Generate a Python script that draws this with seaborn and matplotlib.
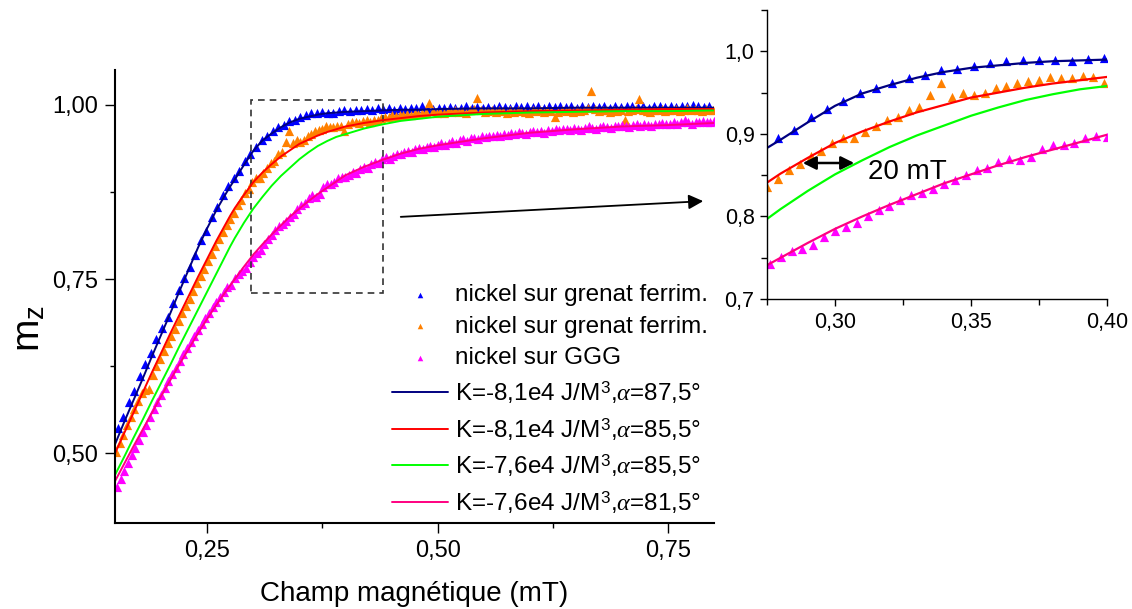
import matplotlib
matplotlib.use("Agg")
import matplotlib.pyplot as plt
import seaborn as sns
from matplotlib.ticker import MultipleLocator, FuncFormatter
from matplotlib.patches import Rectangle

# measured points (champ mT, m_z)
blue_pts = [
    (0.153, 0.537), (0.159, 0.552), (0.165, 0.574), (0.171, 0.590), (0.177, 0.611),
    (0.183, 0.628), (0.189, 0.644), (0.195, 0.664), (0.201, 0.680), (0.207, 0.696),
    (0.213, 0.716), (0.219, 0.734), (0.225, 0.751), (0.231, 0.767), (0.237, 0.785),
    (0.243, 0.806), (0.249, 0.819), (0.255, 0.839), (0.261, 0.853), (0.267, 0.870),
    (0.273, 0.884), (0.279, 0.895), (0.285, 0.905), (0.291, 0.920), (0.297, 0.930),
    (0.303, 0.940), (0.309, 0.949), (0.315, 0.956), (0.321, 0.962), (0.327, 0.968),
    (0.333, 0.971), (0.339, 0.977), (0.345, 0.979), (0.351, 0.982), (0.357, 0.986),
    (0.363, 0.988), (0.369, 0.989), (0.375, 0.990), (0.381, 0.989), (0.387, 0.988),
    (0.393, 0.991), (0.399, 0.992), (0.405, 0.991), (0.411, 0.993), (0.417, 0.992),
    (0.423, 0.994), (0.429, 0.993), (0.435, 0.995), (0.441, 0.994), (0.447, 0.996),
    (0.453, 0.993), (0.459, 0.995), (0.465, 0.994), (0.471, 0.996), (0.477, 0.995),
    (0.483, 0.998), (0.489, 0.995), (0.495, 0.994), (0.501, 0.996), (0.507, 0.995),
    (0.513, 0.997), (0.519, 0.995), (0.525, 0.996), (0.531, 0.998), (0.537, 0.996),
    (0.543, 0.997), (0.549, 0.995), (0.555, 0.997), (0.561, 0.996), (0.567, 0.998),
    (0.573, 0.997), (0.579, 0.996), (0.585, 0.998), (0.591, 0.997), (0.597, 0.999),
    (0.603, 0.997), (0.609, 0.998), (0.615, 0.996), (0.621, 0.998), (0.627, 0.997),
    (0.633, 0.999), (0.639, 0.997), (0.645, 0.998), (0.651, 0.996), (0.657, 0.998),
    (0.663, 0.997), (0.669, 0.999), (0.675, 0.997), (0.681, 0.998), (0.687, 0.996),
    (0.693, 0.998), (0.699, 0.997), (0.705, 0.999), (0.711, 0.998), (0.717, 0.997),
    (0.723, 0.998), (0.729, 0.996), (0.735, 0.998), (0.741, 0.999), (0.747, 0.997),
    (0.753, 0.998), (0.759, 0.997), (0.765, 0.999), (0.771, 0.998), (0.777, 1.000),
    (0.783, 0.998), (0.789, 0.997), (0.795, 0.999),
]

orange_pts = [
    (0.151, 0.502), (0.155, 0.515), (0.159, 0.527), (0.163, 0.540), (0.167, 0.552),
    (0.171, 0.564), (0.175, 0.575), (0.179, 0.586), (0.183, 0.591), (0.187, 0.592),
    (0.191, 0.613), (0.195, 0.625), (0.199, 0.636), (0.203, 0.647), (0.207, 0.658),
    (0.211, 0.668), (0.215, 0.679), (0.219, 0.690), (0.223, 0.701), (0.227, 0.712),
    (0.231, 0.722), (0.235, 0.733), (0.239, 0.744), (0.243, 0.755), (0.247, 0.765),
    (0.251, 0.776), (0.255, 0.786), (0.259, 0.797), (0.263, 0.808), (0.267, 0.818),
    (0.271, 0.827), (0.275, 0.836), (0.279, 0.845), (0.283, 0.856), (0.287, 0.864),
    (0.291, 0.873), (0.295, 0.879), (0.299, 0.889), (0.303, 0.895), (0.307, 0.895),
    (0.311, 0.902), (0.315, 0.910), (0.319, 0.917), (0.323, 0.920), (0.327, 0.929),
    (0.331, 0.933), (0.335, 0.947), (0.339, 0.962), (0.343, 0.945), (0.347, 0.950),
    (0.351, 0.947), (0.355, 0.950), (0.359, 0.956), (0.363, 0.958), (0.367, 0.962),
    (0.371, 0.964), (0.375, 0.965), (0.379, 0.969), (0.383, 0.968), (0.387, 0.968),
    (0.391, 0.970), (0.395, 0.969), (0.399, 0.962), (0.403, 0.972), (0.407, 0.975),
    (0.411, 0.976), (0.415, 0.974), (0.419, 0.977), (0.423, 0.978), (0.427, 0.976),
    (0.431, 0.979), (0.435, 0.978), (0.439, 0.981), (0.443, 0.983), (0.447, 0.982),
    (0.451, 0.985), (0.455, 0.984), (0.459, 0.986), (0.463, 0.985), (0.467, 0.987),
    (0.471, 0.986), (0.475, 0.988), (0.479, 0.987), (0.483, 0.989), (0.487, 0.990),
    (0.491, 1.002), (0.495, 0.991), (0.499, 0.988), (0.503, 0.990), (0.507, 0.989),
    (0.511, 0.991), (0.515, 0.990), (0.519, 0.992), (0.523, 0.990), (0.527, 0.991),
    (0.531, 0.989), (0.535, 0.992), (0.539, 0.994), (0.543, 1.010), (0.547, 0.993),
    (0.551, 0.990), (0.555, 0.991), (0.559, 0.993), (0.563, 0.990), (0.567, 0.992),
    (0.571, 0.991), (0.575, 0.989), (0.579, 0.992), (0.583, 0.990), (0.587, 0.992),
    (0.591, 0.991), (0.595, 0.990), (0.599, 0.988), (0.603, 0.992), (0.607, 0.991),
    (0.611, 0.993), (0.615, 0.990), (0.619, 0.992), (0.623, 0.991), (0.627, 0.983),
    (0.631, 0.990), (0.635, 0.992), (0.639, 0.991), (0.643, 0.993), (0.647, 0.990),
    (0.651, 0.992), (0.655, 0.991), (0.659, 0.993), (0.663, 0.995), (0.667, 1.020),
    (0.671, 0.994), (0.675, 0.991), (0.679, 0.993), (0.683, 0.992), (0.687, 0.990),
    (0.691, 0.993), (0.695, 0.991), (0.699, 0.992), (0.703, 0.979), (0.707, 0.991),
    (0.711, 0.993), (0.715, 0.994), (0.719, 1.009), (0.723, 0.993), (0.727, 0.991),
    (0.731, 0.990), (0.735, 0.993), (0.739, 0.992), (0.743, 0.994), (0.747, 0.991),
    (0.751, 0.993), (0.755, 0.992), (0.759, 0.994), (0.763, 0.991), (0.767, 0.993),
    (0.771, 0.995), (0.775, 0.992), (0.779, 0.994), (0.783, 0.993), (0.787, 0.991),
    (0.791, 0.994), (0.795, 0.992), (0.799, 0.993),
]

magenta_pts = [
    (0.152, 0.452), (0.156, 0.463), (0.160, 0.474), (0.164, 0.486), (0.168, 0.497),
    (0.172, 0.508), (0.176, 0.519), (0.180, 0.531), (0.184, 0.541), (0.188, 0.552),
    (0.192, 0.563), (0.196, 0.573), (0.200, 0.584), (0.204, 0.594), (0.208, 0.604),
    (0.212, 0.614), (0.216, 0.623), (0.220, 0.633), (0.224, 0.642), (0.228, 0.651),
    (0.232, 0.660), (0.236, 0.669), (0.240, 0.677), (0.244, 0.686), (0.248, 0.694),
    (0.252, 0.702), (0.256, 0.710), (0.260, 0.717), (0.264, 0.725), (0.268, 0.732),
    (0.272, 0.738), (0.276, 0.742), (0.280, 0.751), (0.284, 0.758), (0.288, 0.761),
    (0.292, 0.766), (0.296, 0.775), (0.300, 0.782), (0.304, 0.787), (0.308, 0.792),
    (0.312, 0.801), (0.316, 0.808), (0.320, 0.813), (0.324, 0.820), (0.328, 0.826),
    (0.332, 0.829), (0.336, 0.833), (0.340, 0.839), (0.344, 0.844), (0.348, 0.850),
    (0.352, 0.856), (0.356, 0.859), (0.360, 0.866), (0.364, 0.870), (0.368, 0.868),
    (0.372, 0.872), (0.376, 0.882), (0.380, 0.887), (0.384, 0.887), (0.388, 0.889),
    (0.392, 0.895), (0.396, 0.897), (0.400, 0.896), (0.404, 0.899), (0.408, 0.903),
    (0.412, 0.902), (0.416, 0.908), (0.420, 0.911), (0.424, 0.910), (0.428, 0.915),
    (0.432, 0.918), (0.436, 0.917), (0.440, 0.922), (0.444, 0.925), (0.448, 0.923),
    (0.452, 0.927), (0.456, 0.930), (0.460, 0.929), (0.464, 0.932), (0.468, 0.934),
    (0.472, 0.932), (0.476, 0.936), (0.480, 0.938), (0.484, 0.936), (0.488, 0.940),
    (0.492, 0.941), (0.496, 0.939), (0.500, 0.943), (0.504, 0.945), (0.508, 0.943),
    (0.512, 0.946), (0.516, 0.948), (0.520, 0.946), (0.524, 0.949), (0.528, 0.951),
    (0.532, 0.948), (0.536, 0.952), (0.540, 0.953), (0.544, 0.951), (0.548, 0.955),
    (0.552, 0.954), (0.556, 0.956), (0.560, 0.955), (0.564, 0.957), (0.568, 0.956),
    (0.572, 0.958), (0.576, 0.957), (0.580, 0.959), (0.584, 0.958), (0.588, 0.961),
    (0.592, 0.959), (0.596, 0.958), (0.600, 0.961), (0.604, 0.963), (0.608, 0.961),
    (0.612, 0.962), (0.616, 0.960), (0.620, 0.964), (0.624, 0.963), (0.628, 0.965),
    (0.632, 0.964), (0.636, 0.966), (0.640, 0.965), (0.644, 0.964), (0.648, 0.967),
    (0.652, 0.966), (0.656, 0.964), (0.660, 0.967), (0.664, 0.969), (0.668, 0.967),
    (0.672, 0.966), (0.676, 0.968), (0.680, 0.970), (0.684, 0.968), (0.688, 0.967),
    (0.692, 0.970), (0.696, 0.969), (0.700, 0.971), (0.704, 0.970), (0.708, 0.968),
    (0.712, 0.971), (0.716, 0.972), (0.720, 0.970), (0.724, 0.973), (0.728, 0.971),
    (0.732, 0.970), (0.736, 0.973), (0.740, 0.972), (0.744, 0.974), (0.748, 0.972),
    (0.752, 0.973), (0.756, 0.975), (0.760, 0.973), (0.764, 0.976), (0.768, 0.979),
    (0.772, 0.975), (0.776, 0.973), (0.780, 0.976), (0.784, 0.975), (0.788, 0.977),
    (0.792, 0.975), (0.796, 0.976), (0.800, 0.977),
]

# fitted curves
fit_x = [0.15, 0.16, 0.17, 0.18, 0.19, 0.20, 0.21, 0.22, 0.23, 0.24, 0.25, 0.26, 0.27,
         0.275, 0.28, 0.29, 0.30, 0.31, 0.32, 0.33, 0.34, 0.35, 0.36, 0.37, 0.38, 0.39,
         0.40, 0.42, 0.44, 0.46, 0.48, 0.50, 0.55, 0.60, 0.65, 0.70, 0.75, 0.80]
fit_navy = [0.513, 0.545, 0.576, 0.607, 0.639, 0.670, 0.701, 0.733, 0.764, 0.795, 0.823, 0.849, 0.872,
            0.883, 0.893, 0.914, 0.934, 0.949, 0.959, 0.968, 0.975, 0.980, 0.983, 0.986, 0.988, 0.989,
            0.990, 0.991, 0.992, 0.993, 0.993, 0.994, 0.995, 0.995, 0.996, 0.996, 0.996, 0.996]
fit_red = [0.500, 0.529, 0.558, 0.587, 0.616, 0.644, 0.672, 0.699, 0.726, 0.753, 0.779, 0.805, 0.829,
           0.841, 0.852, 0.871, 0.889, 0.903, 0.915, 0.926, 0.935, 0.944, 0.950, 0.956, 0.961, 0.965,
           0.969, 0.974, 0.978, 0.981, 0.984, 0.986, 0.989, 0.991, 0.992, 0.993, 0.994, 0.994]
fit_green = [0.469, 0.495, 0.522, 0.548, 0.575, 0.601, 0.627, 0.654, 0.680, 0.706, 0.732, 0.758, 0.784,
             0.797, 0.809, 0.831, 0.851, 0.868, 0.884, 0.898, 0.910, 0.922, 0.932, 0.941, 0.948, 0.954,
             0.958, 0.966, 0.972, 0.977, 0.980, 0.983, 0.987, 0.989, 0.990, 0.991, 0.991, 0.992]
fit_pink = [0.460, 0.485, 0.510, 0.534, 0.558, 0.582, 0.605, 0.628, 0.650, 0.672, 0.693, 0.713, 0.732,
            0.741, 0.750, 0.768, 0.785, 0.800, 0.814, 0.827, 0.840, 0.851, 0.862, 0.872, 0.881, 0.890,
            0.899, 0.911, 0.921, 0.930, 0.937, 0.942, 0.952, 0.960, 0.965, 0.969, 0.971, 0.974]

marker_series = [
    (blue_pts, "#0000FF", "nickel sur grenat ferrim."),
    (orange_pts, "#FF8000", "nickel sur grenat ferrim."),
    (magenta_pts, "#FF00FF", "nickel sur GGG"),
]
fit_series = [
    (fit_navy, "#000080", r"K=-8,1e4 J/M$^3$,$\alpha$=87,5°"),
    (fit_red, "#FF0000", r"K=-8,1e4 J/M$^3$,$\alpha$=85,5°"),
    (fit_green, "#00FF00", r"K=-7,6e4 J/M$^3$,$\alpha$=85,5°"),
    (fit_pink, "#FF0080", r"K=-7,6e4 J/M$^3$,$\alpha$=81,5°"),
]

sns.set_theme(style="ticks")
plt.rcParams['font.family'] = ['Liberation Sans', 'DejaVu Sans']
plt.rcParams['mathtext.fontset'] = 'custom'
plt.rcParams['mathtext.rm'] = 'Liberation Sans'
plt.rcParams['mathtext.it'] = 'Liberation Serif:italic'
plt.rcParams['text.color'] = 'black'
plt.rcParams['axes.labelcolor'] = 'black'
plt.rcParams['axes.edgecolor'] = 'black'
plt.rcParams['xtick.color'] = 'black'
plt.rcParams['ytick.color'] = 'black'


def draw_curves(ax, lw, labelled):
    for pts, col, lab in marker_series:
        xs = [p[0] for p in pts]
        ys = [p[1] for p in pts]
        sns.scatterplot(x=xs, y=ys, ax=ax, marker="^", s=44, color=col,
                        linewidth=0, label=lab if labelled else None, legend=False)
    for ys, col, lab in fit_series:
        sns.lineplot(x=fit_x, y=ys, ax=ax, color=col, lw=lw,
                     label=lab if labelled else None, legend=False)


def comma(fmt):
    return FuncFormatter(lambda v, p: fmt.format(v).replace(".", ","))


fig = plt.figure(figsize=(11.32, 6.09), dpi=100)
ax = fig.add_axes([0.1016, 0.1412, 0.5292, 0.7438])
ins = fig.add_axes([0.6776, 0.509, 0.3004, 0.4745])

# main plot
draw_curves(ax, 1.4, True)
ax.set_xlim(0.15, 0.80)
ax.set_ylim(0.40, 1.05)
ax.xaxis.set_major_locator(MultipleLocator(0.25))
ax.xaxis.set_minor_locator(MultipleLocator(0.125))
ax.yaxis.set_major_locator(MultipleLocator(0.25))
ax.yaxis.set_minor_locator(MultipleLocator(0.125))
ax.xaxis.set_major_formatter(comma("{:.2f}"))
ax.yaxis.set_major_formatter(comma("{:.2f}"))
ax.tick_params(which="major", direction="out", length=7, width=1, labelsize=17, pad=5)
ax.tick_params(which="minor", direction="out", length=3.5, width=1)
sns.despine(ax=ax)
for s in ["left", "bottom"]:
    ax.spines[s].set_linewidth(1.5)
ax.set_xlabel("Champ magnétique (mT)", fontsize=20, labelpad=14)
ax.set_ylabel(r"m$_\mathregular{z}$", fontsize=28)
ax.yaxis.set_label_coords(-0.113, 0.43)

# dashed zoom box
ax.add_patch(Rectangle((0.298, 0.73), 0.143, 0.277, fill=False, lw=1.2,
                       ls=(0, (4, 3)), ec="#333333", clip_on=False))

ax.legend(loc="upper left", bbox_to_anchor=(392 / 1132, 1 - 284 / 609),
          bbox_transform=fig.transFigure, frameon=False, fontsize=17.5,
          borderpad=0, borderaxespad=0, handlelength=2.3, handletextpad=0.3,
          labelspacing=0.4, markerscale=0.6)

# arrow to the inset
ax.annotate("", xy=(706, 408), xytext=(398, 392), xycoords="figure pixels",
            textcoords="figure pixels", annotation_clip=False,
            arrowprops=dict(arrowstyle="-|>", color="black", lw=1.3, mutation_scale=22))

# inset
draw_curves(ins, 1.6, False)
ins.set_xlim(0.275, 0.40)
ins.set_ylim(0.70, 1.05)
ins.xaxis.set_major_locator(MultipleLocator(0.05))
ins.xaxis.set_minor_locator(MultipleLocator(0.025))
ins.yaxis.set_major_locator(MultipleLocator(0.1))
ins.yaxis.set_minor_locator(MultipleLocator(0.05))
ins.xaxis.set_major_formatter(comma("{:.2f}"))
ins.yaxis.set_major_formatter(comma("{:.1f}"))
ins.tick_params(which="major", direction="out", length=5, width=1, labelsize=15.5, pad=4)
ins.tick_params(which="minor", direction="out", length=4, width=1)
sns.despine(ax=ins)
for s in ["left", "bottom"]:
    ins.spines[s].set_linewidth(1.0)
ins.set_xlabel("")
ins.set_ylabel("")

ins.annotate("", xy=(857, 446), xytext=(800, 446), xycoords="figure pixels",
             textcoords="figure pixels", annotation_clip=False,
             arrowprops=dict(arrowstyle="<|-|>", color="black", lw=1.8, mutation_scale=20))
fig.text(868 / 1132, 1 - 172 / 609, "20 mT", fontsize=20, ha="left", va="center")

fig.savefig("out.png", dpi=100)
